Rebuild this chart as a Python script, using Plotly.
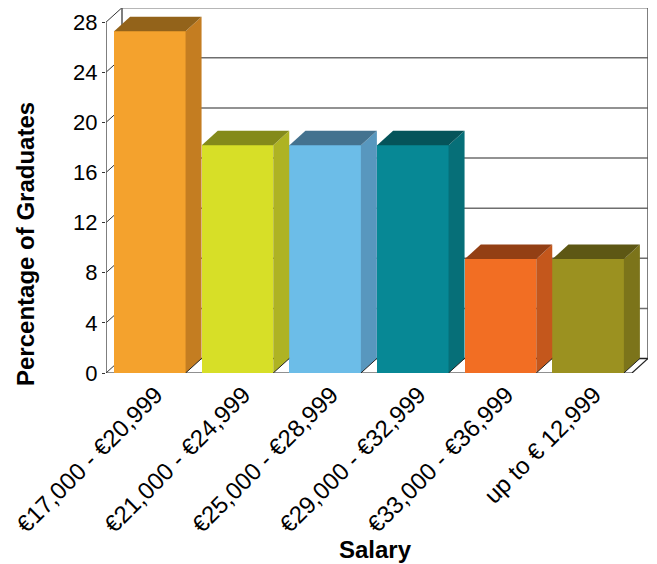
import plotly.graph_objects as go

categories = ["€17,000 - €20,999", "€21,000 - €24,999", "€25,000 - €28,999",
              "€29,000 - €32,999", "€33,000 - €36,999", "up to € 12,999"]
values = [27.27, 18.18, 18.18, 18.18, 9.09, 9.09]
front_colors = ["#F4A22D", "#D7DF27", "#6CBDE8", "#078895", "#F26E23", "#9B9120"]
side_colors = ["#C47D21", "#AEB323", "#5897BE", "#066F78", "#C4571C", "#7C741A"]
top_colors = ["#93631A", "#848A1A", "#44728F", "#05545A", "#933F14", "#5D5714"]
y_ticks = [0, 4, 8, 12, 16, 20, 24, 28]

W, H = 657, 564
ML, MR, MT, MB = 106, 9, 8, 191
n = len(categories)
ymax = 28
px_per_cat = 87.67
ddx = 16 / px_per_cat
plot_w = W - ML - MR
plot_h = H - MT - MB
xr = [-0.5, n - 0.5 + ddx]
ppu = 12.53
ddy = 14.5 / ppu
yr = [0, plot_h / ppu]
bw = 0.815

fig = go.Figure()

fig.add_trace(go.Bar(x=list(range(n)), y=values, width=bw,
                     marker=dict(color=front_colors, line=dict(width=0)),
                     hoverinfo="skip", showlegend=False))

for i, v in enumerate(values):
    xr_ = i + bw / 2
    xl_ = i - bw / 2
    fig.add_trace(go.Scatter(
        x=[xr_, xr_ + ddx, xr_ + ddx, xr_, xr_],
        y=[0, ddy, v + ddy, v, 0],
        fill="toself", fillcolor=side_colors[i], mode="lines",
        line=dict(width=0, color=side_colors[i]), hoverinfo="skip", showlegend=False))
    fig.add_trace(go.Scatter(
        x=[xl_, xr_, xr_ + ddx, xl_ + ddx, xl_],
        y=[v, v, v + ddy, v + ddy, v],
        fill="toself", fillcolor=top_colors[i], mode="lines",
        line=dict(width=0, color=top_colors[i]), hoverinfo="skip", showlegend=False))
    fig.add_trace(go.Scatter(
        x=[xr_, xr_ + ddx], y=[0, ddy], mode="lines",
        line=dict(width=1, color="#222222"), hoverinfo="skip", showlegend=False))

shapes = []
x0f = -0.5
x1f = n - 0.5
for t in y_ticks:
    shapes.append(dict(type="line", xref="x", yref="y", layer="below",
                       x0=x0f + ddx, x1=x1f + ddx, y0=t + ddy, y1=t + ddy,
                       line=dict(color="#6e6e6e" if t else "#222222", width=1.5)))
    shapes.append(dict(type="line", xref="x", yref="y", layer="below",
                       x0=x0f, x1=x0f + ddx, y0=t, y1=t + ddy,
                       line=dict(color="#333333", width=1)))
for xv in [x0f + ddx, x1f + ddx]:
    shapes.append(dict(type="line", xref="x", yref="y", layer="below",
                       x0=xv, x1=xv, y0=ddy, y1=ymax + ddy,
                       line=dict(color="#555555", width=1.5)))
shapes.append(dict(type="line", xref="x", yref="y", layer="below",
                   x0=x0f, x1=x0f, y0=0, y1=ymax,
                   line=dict(color="#555555", width=1.5)))
shapes.append(dict(type="line", xref="x", yref="y", layer="below",
                   x0=x0f, x1=x1f, y0=0, y1=0, line=dict(color="#222222", width=1.2)))
shapes.append(dict(type="line", xref="x", yref="y", layer="below",
                   x0=x1f, x1=x1f + ddx, y0=0, y1=ddy, line=dict(color="#222222", width=1.2)))

fig.update_layout(
    width=W, height=H,
    margin=dict(l=ML, r=MR, t=MT, b=MB, autoexpand=False),
    paper_bgcolor="white", plot_bgcolor="white",
    font=dict(family="Liberation Sans, Arial, sans-serif", color="black", size=22),
    shapes=shapes,
    bargap=0,
    xaxis=dict(range=xr, tickmode="array", tickvals=list(range(n)), ticktext=categories,
               tickangle=-45, showgrid=False, zeroline=False, showline=False,
               ticks="", tickfont=dict(size=24), automargin=False,
               ticklabelshift=6, ticklabelstandoff=2),
    yaxis=dict(range=yr, tickmode="array", tickvals=y_ticks, showgrid=False,
               zeroline=False, showline=False, ticks="outside", ticklen=3,
               tickcolor="#333333", tickfont=dict(size=22), automargin=False),
    annotations=[
        dict(text="<b>Percentage of Graduates</b>", xref="paper", yref="paper",
             x=(25 - ML) / plot_w, y=(H - MB - 244) / plot_h, textangle=-90,
             showarrow=False, font=dict(size=24), xanchor="center", yanchor="middle"),
        dict(text="<b>Salary</b>", xref="paper", yref="paper",
             x=(375 - ML) / plot_w, y=(H - MB - 549) / plot_h,
             showarrow=False, font=dict(size=24), xanchor="center", yanchor="middle"),
    ],
)

fig.write_html("out.html", config={"displayModeBar": False},
               post_script="document.body.style.margin='0';document.body.style.overflow='hidden';")
